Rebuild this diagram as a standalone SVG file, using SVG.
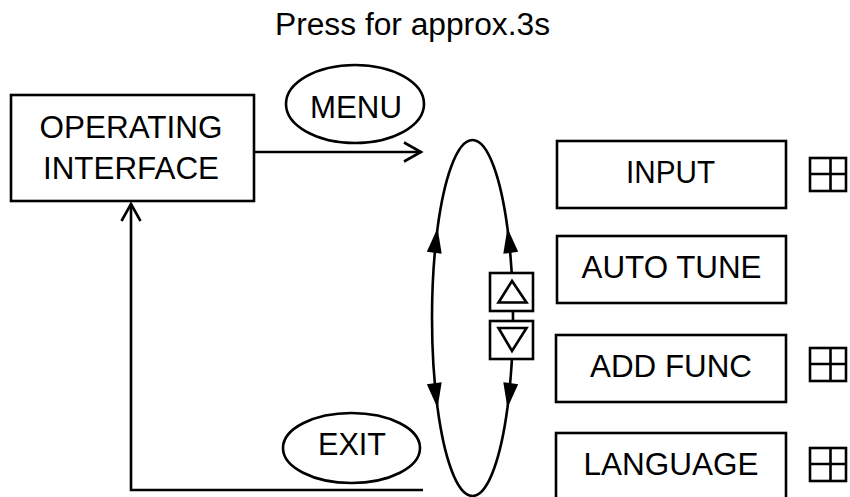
<svg xmlns="http://www.w3.org/2000/svg" width="850" height="497" viewBox="0 0 850 497">
<style>
.box{fill:#fff;stroke:#000;stroke-width:2.6}
.ln{fill:none;stroke:#000;stroke-width:2.6}
.t{font-family:"Liberation Sans",Arial,sans-serif;font-size:31px;fill:#000;text-anchor:middle}
</style>
<defs>
<marker id="open" markerUnits="userSpaceOnUse" viewBox="-2 -2 21 23" markerWidth="21" markerHeight="23" refX="17" refY="9.5" orient="auto" overflow="visible">
<path d="M0,0 L17,9.5 L0,19" fill="none" stroke="#000" stroke-width="2.6"/>
</marker>
<marker id="solid" markerUnits="userSpaceOnUse" viewBox="0 0 25 15" markerWidth="25" markerHeight="15" refX="25" refY="7.5" orient="auto" overflow="visible">
<path d="M0,0 L25,7.5 L0,15 z" fill="#000"/>
</marker>
</defs>
<rect width="850" height="497" fill="#fff"/>
<text class="t" x="412.5" y="35" textLength="275" lengthAdjust="spacingAndGlyphs">Press for approx.3s</text>
<g id="connectors">
<path class="ln" d="M254,152 H421" marker-end="url(#open)"/>
<path class="ln" d="M423,490 H131 V204" marker-end="url(#open)"/>
<path class="ln" d="M432,318 A40.5 178 0 0 1 437.56,228" marker-end="url(#solid)"/>
<path class="ln" d="M432,318 A40.5 178 0 0 0 437.56,408" marker-end="url(#solid)"/>
<path class="ln" d="M513,318 A40.5 178 0 0 0 507.44,228" marker-end="url(#solid)"/>
<path class="ln" d="M513,318 A40.5 178 0 0 1 507.44,408" marker-end="url(#solid)"/>
<path class="ln" d="M437.56,228 A40.5 178 0 0 1 507.44,228"/>
<path class="ln" d="M507.44,408 A40.5 178 0 0 1 437.56,408"/>
</g>
<g id="operating">
<rect class="box" x="11" y="95" width="243" height="106"/>
<text class="t" x="131" y="137.5" textLength="183" lengthAdjust="spacingAndGlyphs">OPERATING</text>
<text class="t" x="131" y="178.5" textLength="176" lengthAdjust="spacingAndGlyphs">INTERFACE</text>
</g>
<g id="menu">
<ellipse class="box" cx="355" cy="104" rx="69" ry="39"/>
<text class="t" x="356" y="118" textLength="92" lengthAdjust="spacingAndGlyphs">MENU</text>
</g>
<g id="exit">
<ellipse class="box" cx="351.5" cy="448" rx="68.5" ry="35"/>
<text class="t" x="352" y="455" textLength="68" lengthAdjust="spacingAndGlyphs">EXIT</text>
</g>
<g id="up">
<rect class="box" x="490" y="273" width="43" height="38"/>
<polygon class="ln" points="512,281 498.5,302.5 526.5,302.5"/>
</g>
<g id="down">
<rect class="box" x="490" y="321" width="43" height="38"/>
<polygon class="ln" points="498.5,328 526.5,328 512,351"/>
</g>
<g id="input">
<rect class="box" x="557" y="141" width="229" height="67"/>
<text class="t" x="670.5" y="183" textLength="89" lengthAdjust="spacingAndGlyphs">INPUT</text>
</g>
<g id="autotune">
<rect class="box" x="557" y="236" width="229" height="67"/>
<text class="t" x="671.5" y="278" textLength="180" lengthAdjust="spacingAndGlyphs">AUTO TUNE</text>
</g>
<g id="addfunc">
<rect class="box" x="556" y="335" width="230" height="67"/>
<text class="t" x="671" y="377" textLength="162" lengthAdjust="spacingAndGlyphs">ADD FUNC</text>
</g>
<g id="language">
<rect class="box" x="556" y="433" width="230" height="80"/>
<text class="t" x="671" y="475" textLength="175" lengthAdjust="spacingAndGlyphs">LANGUAGE</text>
</g>
<g id="icon1">
<rect class="ln" x="810" y="158" width="36" height="33"/>
<path class="ln" d="M830.5,158 V191 M810,174 H846"/>
</g>
<g id="icon2">
<rect class="ln" x="810" y="348" width="36" height="33"/>
<path class="ln" d="M830.5,348 V381 M810,364 H846"/>
</g>
<g id="icon3">
<rect class="ln" x="810" y="448" width="36" height="33"/>
<path class="ln" d="M830.5,448 V481 M810,464 H846"/>
</g>
</svg>
